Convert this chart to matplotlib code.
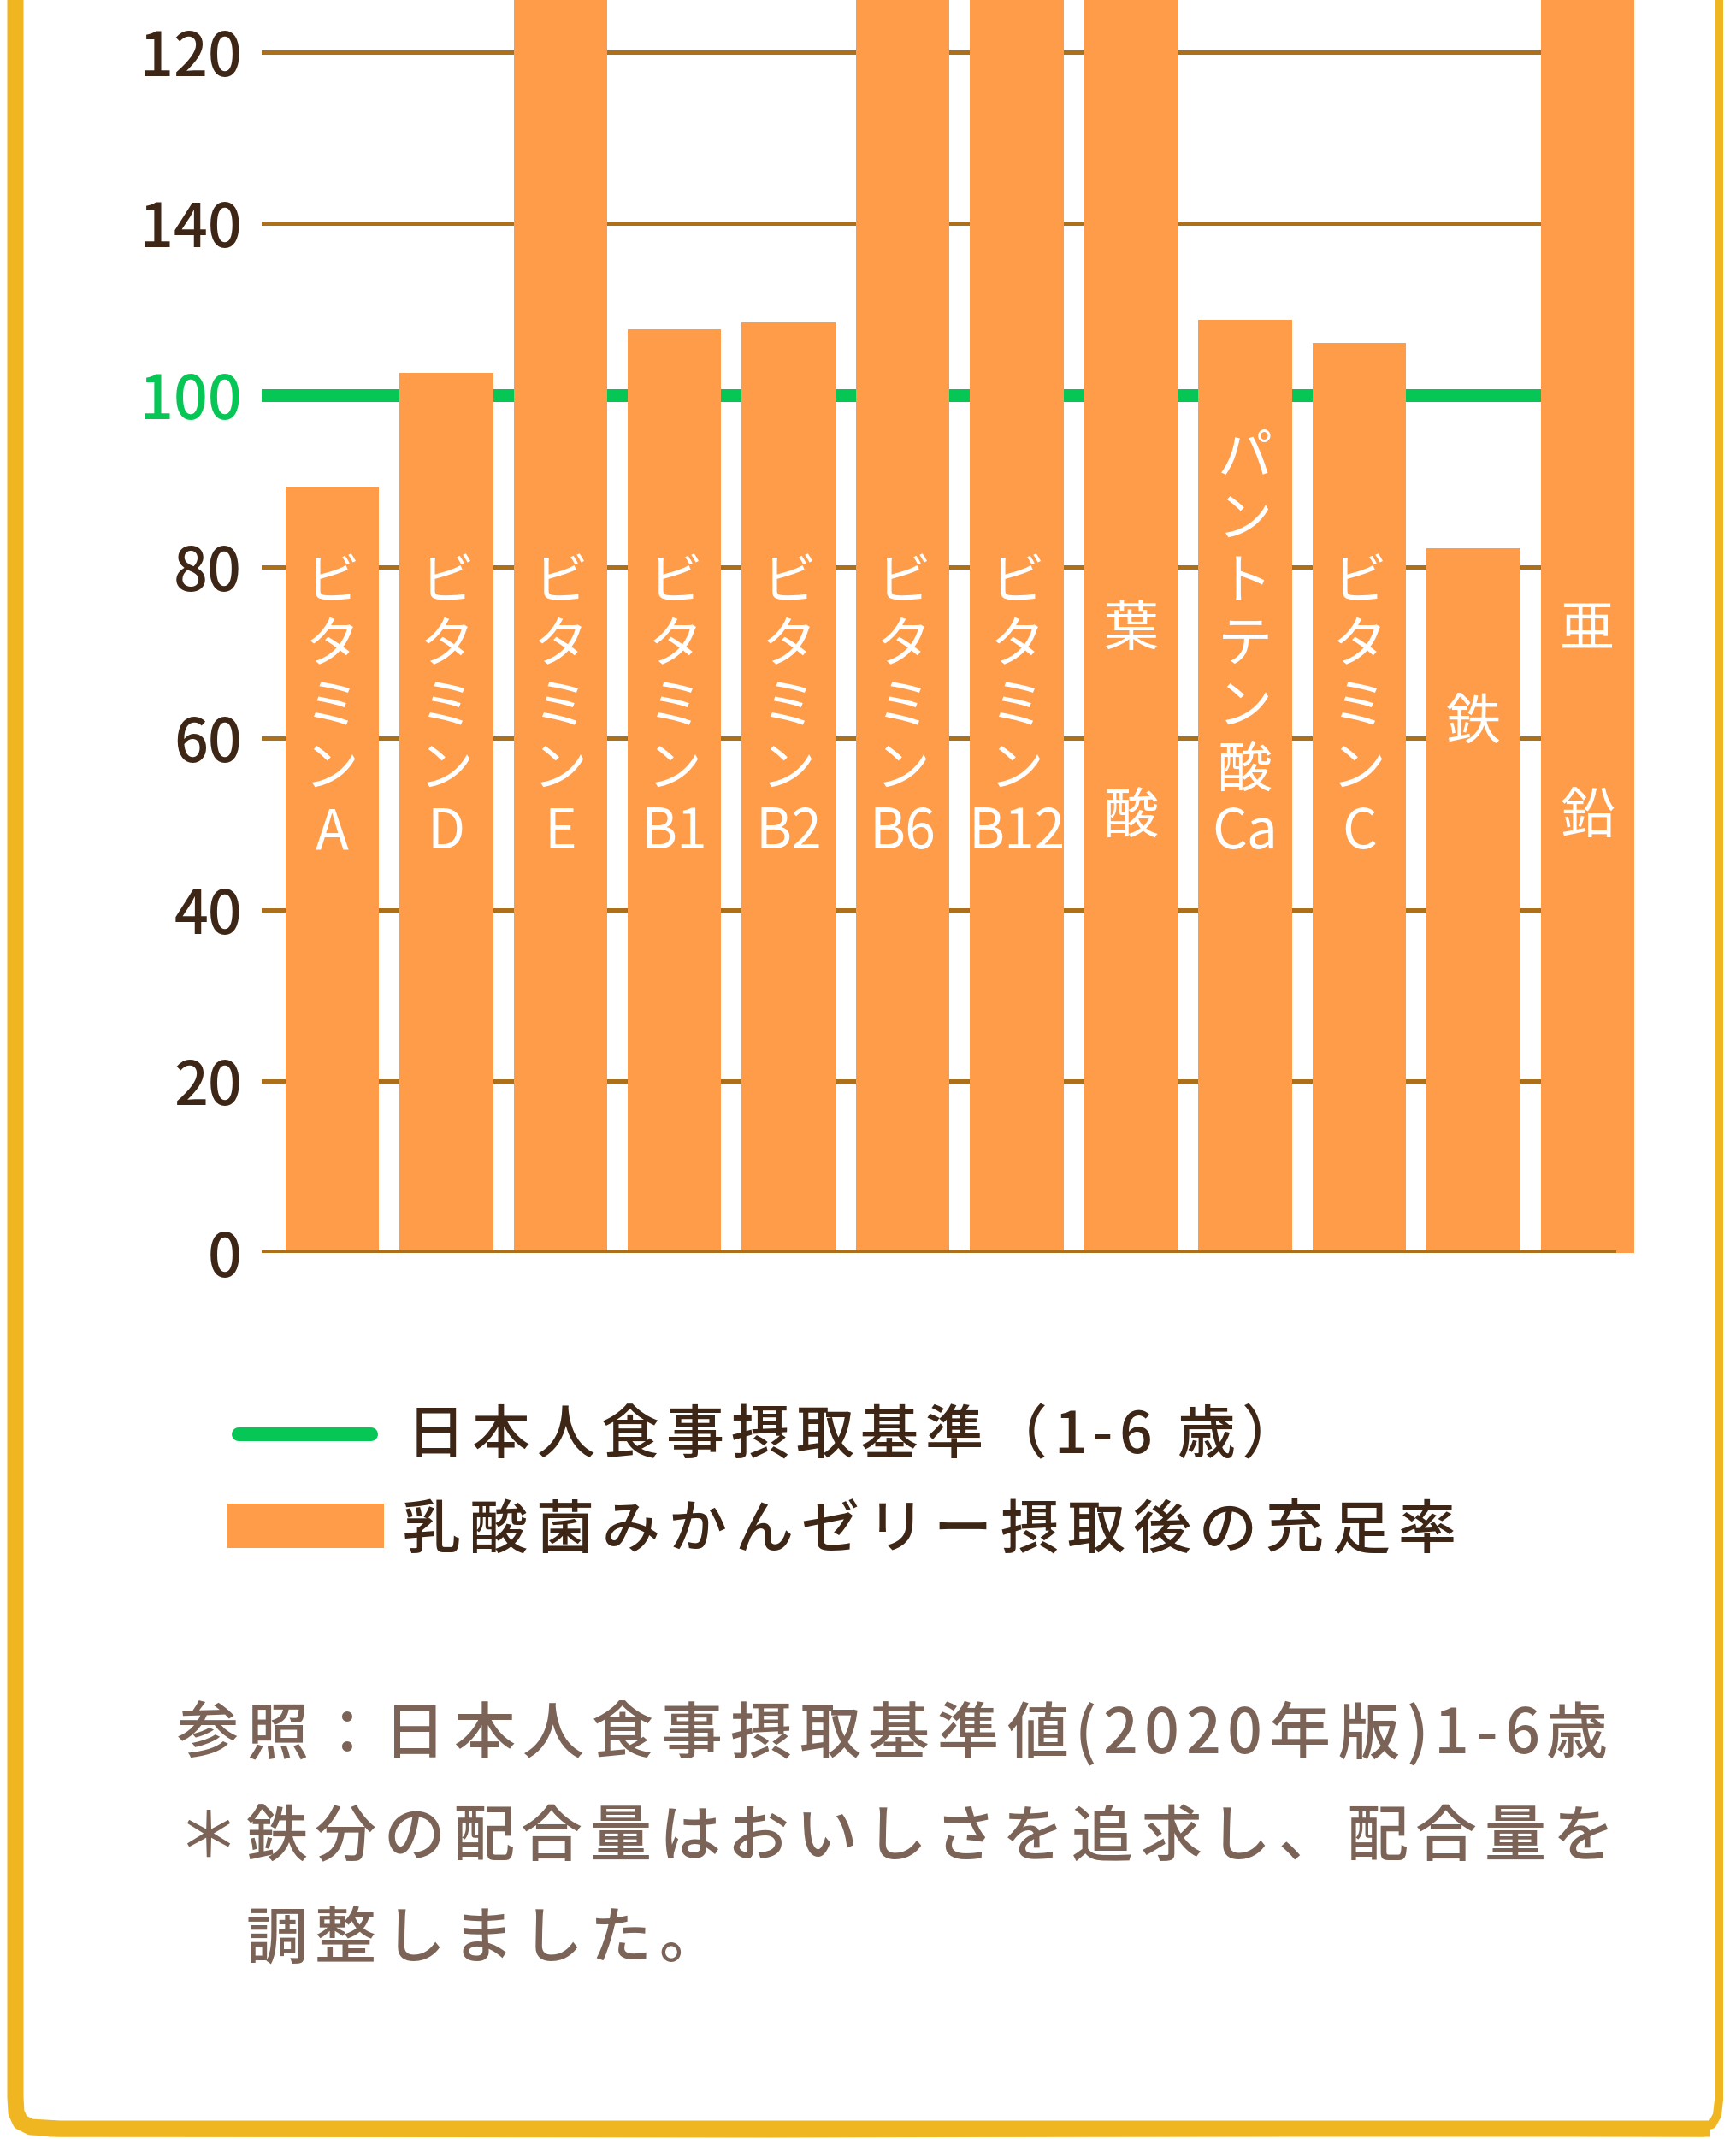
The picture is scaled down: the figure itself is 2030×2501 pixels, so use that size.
import numpy as np
import matplotlib
matplotlib.use('Agg')
import matplotlib.pyplot as plt
from matplotlib import transforms
from matplotlib.patches import Rectangle

plt.rcParams['font.family'] = ['Noto Sans CJK JP', 'DejaVu Sans']

# bar labels (one character / token per line, blank lines keep the spacing)
nutrients = ['ビ\nタ\nミ\nン\nA', 'ビ\nタ\nミ\nン\nD', 'ビ\nタ\nミ\nン\nE',
             'ビ\nタ\nミ\nン\nB1', 'ビ\nタ\nミ\nン\nB2', 'ビ\nタ\nミ\nン\nB6',
             'ビ\nタ\nミ\nン\nB12', '葉\n\n\n酸', 'パ\nン\nト\nテ\nン\n酸\nCa',
             'ビ\nタ\nミ\nン\nC', '鉄', '亜\n\n\n鉛']
# 充足率 (%) ; E, B6, B12, 葉酸, 亜鉛 run past the cropped top of the picture
values = [89.3, 102.6, 180, 107.7, 108.5, 200, 190, 170, 108.8, 106.1, 82.2, 185]
standard = 100
tick_pos = [0, 20, 40, 60, 80, 100, 120, 140]
tick_labels = ['0', '20', '40', '60', '80', '100', '140', '120']

legend_line = '日本人食事摂取基準（1-6 歳）'
legend_bar = '乳酸菌みかんゼリー摂取後の充足率'
note1 = '参照：日本人食事摂取基準値(2020年版)1-6歳'
note2 = '＊鉄分の配合量はおいしさを追求し、配合量を'
note3 = '調整しました。'

ORANGE = '#FE9C4A'
GREEN = '#06C655'
GRID = '#AC701A'
BROWN = '#3E2616'
GRAY = '#7B6457'
YELLOW = '#F0B622'

W, H = 2031, 2501
DPI = 100


def pt(px):
    return px * 72.0 / DPI


fig = plt.figure(figsize=(W / DPI, H / DPI), dpi=DPI)
fig.patch.set_facecolor('white')

# pixel-space layer for frame, legend and notes
deco = fig.add_axes([0, 0, 1, 1], zorder=0)
deco.set_xlim(0, W)
deco.set_ylim(H, 0)
deco.axis('off')

# main axes: zero at y=1465px, 10.03 px per unit, runs above the figure top
zero_y = 1465
unit = 10.03
ymax = 160
ax = fig.add_axes([306 / W, (H - zero_y) / H, 1605 / W, ymax * unit / H], zorder=1)
ax.patch.set_alpha(0)

x = np.arange(len(values))
for yv in tick_pos[1:]:
    if yv != standard:
        ax.axhline(yv, color=GRID, lw=pt(5), zorder=1)
ax.axhline(standard, color=GREEN, lw=pt(15), zorder=2)
ax.bar(x, values, width=0.82, color=ORANGE, zorder=3)
ax.axhline(0, xmax=0.985, color=GRID, lw=pt(6), zorder=4)

ax.set_xlim(-0.6175, 11.41)
ax.set_ylim(0, ymax)
ax.set_xticks([])
ax.set_yticks(tick_pos, tick_labels)
ax.tick_params(axis='y', length=0, pad=pt(23), labelsize=pt(70), labelcolor=BROWN)
for lab in ax.get_yticklabels():
    lab.set_fontweight('medium')
    if lab.get_text() == str(standard):
        lab.set_color(GREEN)
for s in ax.spines.values():
    s.set_visible(False)

# white vertical labels inside the bars
blend = transforms.blended_transform_factory(ax.transData, deco.transData)
em_bar = 64
step = 73
for i, lab in enumerate(nutrients):
    lines = lab.split('\n')
    n = len(lines)
    if n >= 5:
        first = 968 - (n - 1) * step
    else:
        first = 840 - (n - 1) * step / 2
    for j, ln in enumerate(lines):
        if ln:
            ax.text(i, first + j * step + 0.38 * em_bar, ln, transform=blend,
                    ha='center', va='baseline', color='white',
                    fontsize=pt(em_bar), zorder=5, clip_on=False)

# letter-spaced text (the reference font has wide tracking)
HALF = {'(': 0.33, ')': 0.33, '-': 0.34, ' ': 0.22}


def spaced(x0, y, s, em, color, x1=None, track=None):
    adv = [1.0 if ord(c) > 0x2E7F else HALF.get(c, 0.55) for c in s]
    if track is None:
        track = (x1 - x0 - sum(adv) * em) / (len(s) - 1)
    xx = x0
    for c, a in zip(s, adv):
        deco.text(xx + a * em / 2, y + 0.38 * em, c, ha='center', va='baseline',
                  color=color, fontsize=pt(em), fontweight='medium')
        xx += a * em + track
    return track


# legend
deco.plot([279, 434], [1677, 1677], color=GREEN, lw=pt(16), solid_capstyle='round')
deco.add_patch(Rectangle((266, 1758), 183, 52, color=ORANGE, lw=0))
spaced(476, 1673, legend_line, 68, BROWN, x1=1520)
spaced(471, 1784, legend_bar, 68, BROWN, x1=1703)

# notes
spaced(207, 2023, note1, 72, GRAY, x1=1880)
tr = spaced(207, 2143, note2, 72, GRAY, x1=1888)
spaced(207 + 72 + tr, 2262, note3, 72, GRAY, track=tr)

# hand-drawn yellow frame
deco.plot([18, 18, 19, 24, 36, 70, 2000], [-10, 2452, 2470, 2481, 2487, 2489, 2489],
          color=YELLOW, lw=pt(19), solid_joinstyle='round', solid_capstyle='butt')
deco.plot([2010, 2010, 2008, 2002, 1985], [-10, 2455, 2473, 2484, 2489],
          color=YELLOW, lw=pt(10), solid_joinstyle='round', solid_capstyle='butt')
deco.plot([60, 900, 1700, 1990], [2495, 2496, 2494, 2495], color=YELLOW, lw=pt(7))
deco.plot([14, 13, 15], [300, 1400, 2400], color=YELLOW, lw=pt(5))

fig.savefig('out.png', dpi=DPI)
